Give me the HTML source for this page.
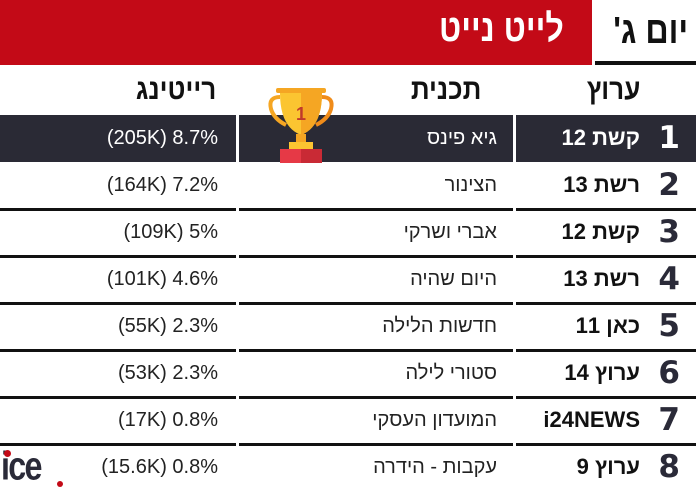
<!DOCTYPE html>
<html><head><meta charset="utf-8"><style>
body{margin:0;width:696px;height:496px;background:#fff;position:relative;overflow:hidden;font-family:"Liberation Sans","DejaVu Sans",sans-serif}
.a{position:absolute}
.banner{left:0;top:0;width:592px;height:65px;background:#c30a17}
.title{right:132px;top:8px;color:#fff;font-weight:bold;font-size:38px;direction:rtl;transform:scaleX(0.85);transform-origin:right}
.day{right:8px;top:10px;font-size:38px;font-weight:bold;color:#111;direction:rtl;transform:scaleX(0.85);transform-origin:right}
.uline{left:595px;top:61px;width:101px;height:4px;background:#111}
.hd{top:74px;font-size:29px;font-weight:bold;color:#111;direction:rtl;transform:scaleX(0.9);transform-origin:right}
.row{left:0;width:696px;height:46px}
.c{position:absolute;top:0;height:100%;display:flex;align-items:center;justify-content:flex-end}
.num{font-size:31px;font-weight:bold;color:#2a2a38;font-family:"DejaVu Sans",sans-serif}
.ch{font-size:22px;font-weight:bold;color:#111;direction:rtl}
.pr{font-size:20px;color:#222;direction:rtl}
.rt{font-size:20px;color:#222}
.dark .num,.dark .ch,.dark .pr,.dark .rt{color:#fff}
.line{height:3px;background:#111}
</style></head><body>
<div class="a banner"></div>
<div class="a title">לייט נייט</div>
<div class="a day">יום ג'</div>
<div class="a uline"></div>
<div class="a hd" style="right:56px">ערוץ</div>
<div class="a hd" style="right:215px">תכנית</div>
<div class="a hd" style="right:480px">רייטינג</div>

<div class="a" style="left:0;top:115px;width:236px;height:47px;background:#2a2a35"></div>
<div class="a" style="left:239px;top:115px;width:274px;height:47px;background:#2a2a35"></div>
<div class="a" style="left:516px;top:115px;width:180px;height:47px;background:#2a2a35"></div>

<svg class="a" style="left:266px;top:87px" width="70" height="78" viewBox="0 0 70 78">
<rect x="10" y="1" width="50" height="5" rx="2" fill="#f5a623"/>
<path d="M14 6 h42 q0 34 -21 42 q-21 -8 -21 -42z" fill="#fbc531"/>
<path d="M35 6 h21 q0 34 -21 42z" fill="#f5a623"/>
<path d="M14 10 q-12 0 -9 12 q3 10 15 16" stroke="#f5a623" stroke-width="4" fill="none"/>
<path d="M56 10 q12 0 9 12 q-3 10 -15 16" stroke="#f08c1a" stroke-width="4" fill="none"/>
<rect x="30" y="47" width="10" height="10" fill="#f5a623"/>
<rect x="23" y="55" width="24" height="7" fill="#fbc531"/>
<rect x="14" y="62" width="42" height="14" fill="#e63946"/>
<rect x="35" y="62" width="21" height="14" fill="#c92a35"/>
<text x="35" y="33" font-size="18" font-weight="bold" fill="#c0392b" text-anchor="middle" font-family="Liberation Sans">1</text>
</svg>

<div id="rows"></div>
<script>
const d=[["1","קשת 12","גיא פינס","(205K) 8.7%"],["2","רשת 13","הצינור","(164K) 7.2%"],["3","קשת 12","אברי ושרקי","(109K) 5%"],["4","רשת 13","היום שהיה","(101K) 4.6%"],["5","כאן 11","חדשות הלילה","(55K) 2.3%"],["6","ערוץ 14","סטורי לילה","(53K) 2.3%"],["7","i24NEWS","המועדון העסקי","(17K) 0.8%"],["8","ערוץ 9","עקבות - הידרה","(15.6K) 0.8%"]];
let h="";
d.forEach((r,i)=>{const t=115+i*47;
h+=`<div class="a row ${i==0?'dark':''}" style="top:${t}px">
<div class="c" style="right:16px"><span class="num">${r[0]}</span></div>
<div class="c" style="right:56px"><span class="ch">${r[1]}</span></div>
<div class="c" style="right:199px"><span class="pr">${r[2]}</span></div>
<div class="c" style="right:478px"><span class="rt">${r[3]}</span></div></div>`;
if(i>0&&i<7){const y=t+46;h+=`<div class="a line" style="left:0;top:${y}px;width:236px"></div><div class="a line" style="left:239px;top:${y}px;width:274px"></div><div class="a line" style="left:516px;top:${y}px;width:180px"></div>`;}
});
document.getElementById("rows").innerHTML=h;
</script>
<div class="a" style="left:1px;top:446px;font-size:38px;font-weight:bold;color:#2a2a38;letter-spacing:-2px;line-height:40px;transform:scaleX(0.85) scaleY(1.05);transform-origin:left top">ice</div>
<div class="a" style="left:4px;top:450px;width:7px;height:7px;border-radius:50%;background:#c30a17"></div>
<div class="a" style="left:57px;top:481px;width:6px;height:6px;border-radius:50%;background:#c30a17"></div>
</body></html>
